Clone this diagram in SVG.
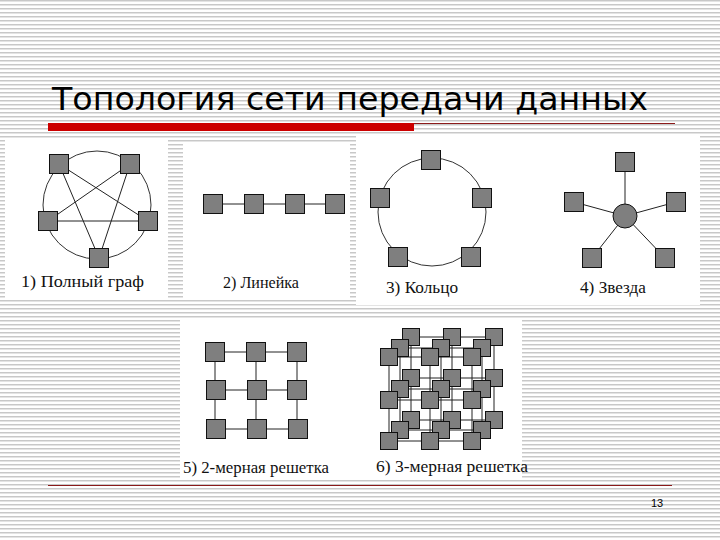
<svg xmlns="http://www.w3.org/2000/svg" width="720" height="540" viewBox="0 0 720 540">
<defs>
<pattern id="stripes" x="0" y="0" width="8" height="4" patternUnits="userSpaceOnUse">
<rect x="0" y="0" width="8" height="4" fill="#ffffff"/>
<rect x="0" y="0" width="8" height="1" fill="#c8c8c8"/>
<rect x="0" y="1" width="8" height="1" fill="#e4e4e4"/>
</pattern>
<rect id="sq" x="-9.5" y="-9.5" width="19" height="19"/>
<rect id="sq3" x="-8.5" y="-8.5" width="17" height="17"/>
</defs>
<style>
.panel{fill:#ffffff}
.nd{fill:#7f7f7f;stroke:#111;stroke-width:1}
.ln{stroke:#222;stroke-width:1;fill:none}
.ring{stroke:#333;stroke-width:1;fill:none}
.lbl{font-family:"Liberation Serif","Times New Roman",serif;font-size:17px;fill:#111}
.title{font-family:"DejaVu Sans",Tahoma,sans-serif;font-size:32px;fill:#000}
</style>
<rect x="0" y="0" width="720" height="540" fill="url(#stripes)"/>

<g id="title">
<text class="title" x="52" y="110" textLength="596" lengthAdjust="spacingAndGlyphs">Топология сети передачи данных</text>
<rect x="48" y="123" width="366" height="8" fill="#cc0000"/>
<line x1="414" y1="123.5" x2="675" y2="123.5" stroke="#8b1a1a" stroke-width="1"/>
</g>

<g id="panels">
<rect class="panel" x="5" y="140" width="163" height="158"/>
<rect class="panel" x="183" y="142" width="167" height="156"/>
<rect class="panel" x="356" y="134" width="344" height="171"/>
<rect class="panel" x="180" y="318" width="342" height="162"/>
</g>

<g id="connectors">
<!-- full graph -->
<circle class="ring" cx="97" cy="205" r="54"/>
<line class="ln" x1="59" y1="164" x2="148" y2="221"/>
<line class="ln" x1="59" y1="164" x2="99" y2="258"/>
<line class="ln" x1="130" y1="164" x2="48" y2="221"/>
<line class="ln" x1="130" y1="164" x2="99" y2="258"/>
<line class="ln" x1="48" y1="221" x2="148" y2="221"/>
<!-- line -->
<line class="ln" x1="213" y1="204" x2="335" y2="204"/>
<!-- ring -->
<circle class="ring" cx="432" cy="212" r="54"/>
<!-- star -->
<line class="ln" x1="625" y1="216" x2="625" y2="162"/>
<line class="ln" x1="625" y1="216" x2="574" y2="202"/>
<line class="ln" x1="625" y1="216" x2="676" y2="202"/>
<line class="ln" x1="625" y1="216" x2="592" y2="258"/>
<line class="ln" x1="625" y1="216" x2="665" y2="258"/>
<!-- 2D grid -->
<path class="ln" d="M215 352H297M215 390H297M216 429H298M215 352V429M256 352V429M297 352V429"/>
<!-- 3D grid: back, middle, front layers -->
<path class="ln" d="M411 337H494M411 378H494M411 420H494M411 337V420M452 337V420M494 337V420"/>
<path class="ln" d="M400 348H482M400 389H482M400 430H482M400 348V430M441 348V430M482 348V430"/>
<path class="ln" d="M389 357H472M389 400H472M389 441H472M389 357V441M430 357V441M472 357V441"/>
</g>

<g id="n-full">
<use href="#sq" class="nd" x="59" y="164"/>
<use href="#sq" class="nd" x="130" y="164"/>
<use href="#sq" class="nd" x="48" y="221"/>
<use href="#sq" class="nd" x="148" y="221"/>
<use href="#sq" class="nd" x="99" y="258"/>
<text class="lbl" x="21" y="287" textLength="123" lengthAdjust="spacingAndGlyphs">1) Полный граф</text>
</g>

<g id="n-line">
<use href="#sq" class="nd" x="213" y="204"/>
<use href="#sq" class="nd" x="254" y="204"/>
<use href="#sq" class="nd" x="295" y="204"/>
<use href="#sq" class="nd" x="335" y="204"/>
<text class="lbl" x="223" y="288" textLength="76" lengthAdjust="spacingAndGlyphs">2) Линейка</text>
</g>

<g id="n-ring">
<use href="#sq" class="nd" x="431" y="160"/>
<use href="#sq" class="nd" x="380" y="198"/>
<use href="#sq" class="nd" x="482" y="198"/>
<use href="#sq" class="nd" x="398" y="257"/>
<use href="#sq" class="nd" x="471" y="257"/>
<text class="lbl" x="386" y="293" textLength="72" lengthAdjust="spacingAndGlyphs">3) Кольцо</text>
</g>

<g id="n-star">
<circle cx="625" cy="216" r="12" class="nd"/>
<use href="#sq" class="nd" x="625" y="162"/>
<use href="#sq" class="nd" x="574" y="202"/>
<use href="#sq" class="nd" x="676" y="202"/>
<use href="#sq" class="nd" x="592" y="258"/>
<use href="#sq" class="nd" x="665" y="258"/>
<text class="lbl" x="580" y="293" textLength="66" lengthAdjust="spacingAndGlyphs">4) Звезда</text>
</g>

<g id="n-grid2">
<use href="#sq" class="nd" x="215" y="352"/>
<use href="#sq" class="nd" x="256" y="352"/>
<use href="#sq" class="nd" x="297" y="352"/>
<use href="#sq" class="nd" x="216" y="390"/>
<use href="#sq" class="nd" x="257" y="390"/>
<use href="#sq" class="nd" x="297" y="390"/>
<use href="#sq" class="nd" x="216" y="429"/>
<use href="#sq" class="nd" x="257" y="429"/>
<use href="#sq" class="nd" x="298" y="429"/>
<text class="lbl" x="183" y="473" textLength="146" lengthAdjust="spacingAndGlyphs">5) 2-мерная решетка</text>
</g>

<g id="n-grid3">
<use href="#sq3" class="nd" x="411" y="337"/>
<use href="#sq3" class="nd" x="452" y="337"/>
<use href="#sq3" class="nd" x="494" y="337"/>
<use href="#sq3" class="nd" x="411" y="378"/>
<use href="#sq3" class="nd" x="452" y="378"/>
<use href="#sq3" class="nd" x="494" y="378"/>
<use href="#sq3" class="nd" x="411" y="420"/>
<use href="#sq3" class="nd" x="452" y="420"/>
<use href="#sq3" class="nd" x="494" y="420"/>
<use href="#sq3" class="nd" x="400" y="348"/>
<use href="#sq3" class="nd" x="441" y="348"/>
<use href="#sq3" class="nd" x="482" y="348"/>
<use href="#sq3" class="nd" x="400" y="389"/>
<use href="#sq3" class="nd" x="441" y="389"/>
<use href="#sq3" class="nd" x="482" y="389"/>
<use href="#sq3" class="nd" x="400" y="430"/>
<use href="#sq3" class="nd" x="441" y="430"/>
<use href="#sq3" class="nd" x="482" y="430"/>
<use href="#sq3" class="nd" x="389" y="357"/>
<use href="#sq3" class="nd" x="430" y="357"/>
<use href="#sq3" class="nd" x="472" y="357"/>
<use href="#sq3" class="nd" x="389" y="400"/>
<use href="#sq3" class="nd" x="430" y="400"/>
<use href="#sq3" class="nd" x="472" y="400"/>
<use href="#sq3" class="nd" x="389" y="441"/>
<use href="#sq3" class="nd" x="430" y="441"/>
<use href="#sq3" class="nd" x="472" y="441"/>
<text class="lbl" x="376" y="472" textLength="152" lengthAdjust="spacingAndGlyphs">6) 3-мерная решетка</text>
</g>

<g id="footer">
<line x1="48" y1="485.5" x2="672" y2="485.5" stroke="#8b1a1a" stroke-width="1"/>
<text x="657" y="507" text-anchor="middle" font-family="'Liberation Sans',Arial,sans-serif" font-size="11" fill="#000">13</text>
</g>
</svg>
